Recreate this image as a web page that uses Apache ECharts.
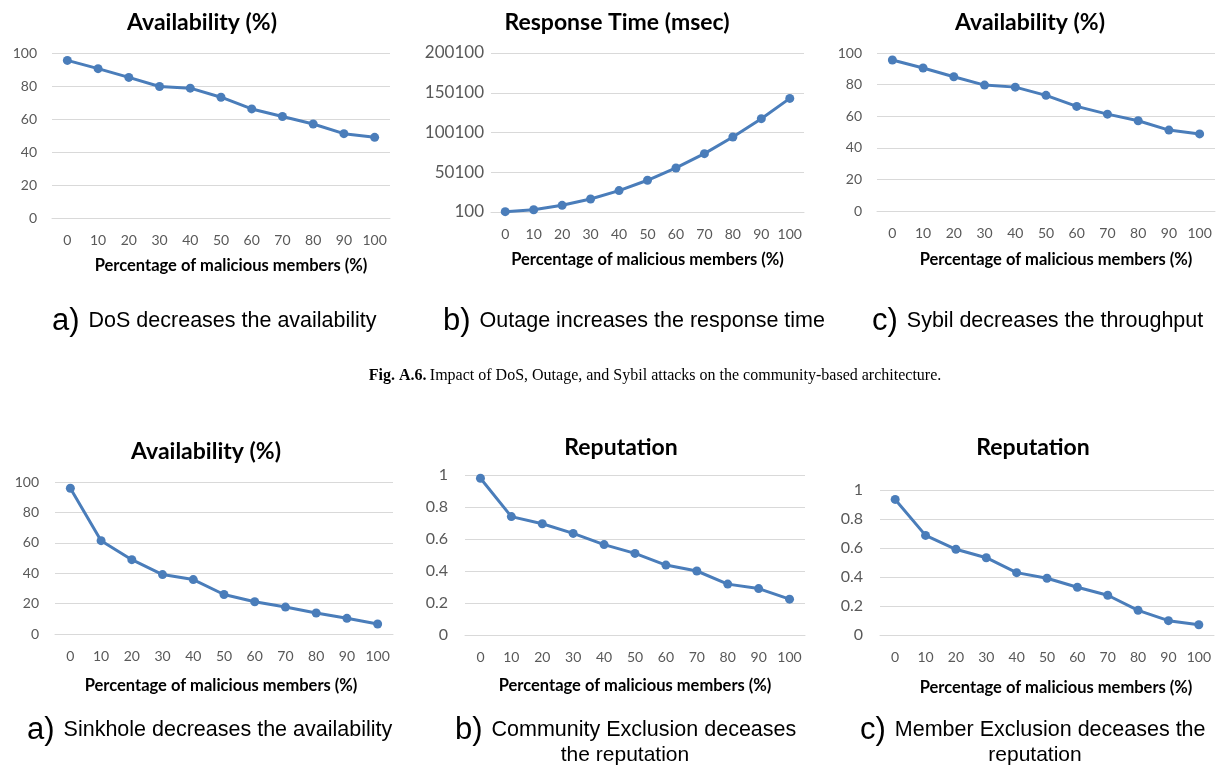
<!DOCTYPE html>
<html>
<head>
<meta charset="utf-8">
<script src="https://cdn.jsdelivr.net/npm/echarts@6/dist/echarts.min.js"></script>
<style>
html,body{margin:0;padding:0;background:#fff;}
#chart{width:1219px;height:767px;}
</style>
</head>
<body>
<div id="chart"></div>
<script>
const categories = ['0','10','20','30','40','50','60','70','80','90','100'];
const dosAvailability = [95.5, 90.5, 85.2, 79.7, 78.7, 73.2, 66.1, 61.5, 57.0, 51.1, 48.9];
const outageResponseTime = [500, 3000, 8500, 16500, 27000, 40000, 55500, 73500, 94500, 117500, 143000];
const sybilAvailability = [95.6, 90.5, 85.0, 79.7, 78.4, 73.2, 66.2, 61.3, 57.1, 51.2, 48.8];
const sinkholeAvailability = [95.9, 61.4, 48.9, 39.1, 35.8, 26.0, 21.2, 17.7, 13.8, 10.3, 6.6];
const communityReputation = [0.98, 0.74, 0.695, 0.635, 0.565, 0.51, 0.437, 0.40, 0.318, 0.29, 0.224];
const memberReputation = [0.935, 0.687, 0.591, 0.533, 0.43, 0.391, 0.329, 0.274, 0.17, 0.099, 0.071];

const chartTitles = ['Availability (%)', 'Response Time (msec)', 'Availability (%)', 'Availability (%)', 'Reputation', 'Reputation'];
const xAxisName = 'Percentage of malicious members (%)';
const seriesData = [dosAvailability, outageResponseTime, sybilAvailability, sinkholeAvailability, communityReputation, memberReputation];
const yRanges = [
  {min: 0, max: 100, interval: 20},
  {min: 100, max: 200100, interval: 50000},
  {min: 0, max: 100, interval: 20},
  {min: 0, max: 100, interval: 20},
  {min: 0, max: 1, interval: 0.2},
  {min: 0, max: 1, interval: 0.2}
];

// layout
const grids = [
  {left: 52, top: 53, width: 338, height: 165},
  {left: 491, top: 53, width: 313, height: 159},
  {left: 877, top: 53, width: 338, height: 158},
  {left: 55, top: 482, width: 338, height: 152},
  {left: 465, top: 475, width: 340, height: 160},
  {left: 880, top: 490, width: 334, height: 145}
];
const titlePos = [[197, 6], [612, 6], [1025, 6], [201, 435], [616, 431], [1028, 431]];
const yLabelMargin = [15, 7, 15, 16, 17, 17];
const yLabelSize = [14, 17, 14, 14, 16, 16];
const nameGap = [39, 39, 40, 43, 42, 44];
const nameShift = [20, 0, 20, -6, 0, 18];

const blue = '#4a7dba';
const font = 'Lato, "Open Sans", sans-serif';
const capRich = {big: {fontSize: 31, fontFamily: 'Liberation Sans', padding: [0, 9, 0, 0]}, txt: {fontSize: 21.5, fontFamily: 'Liberation Sans'}};

const option = {
  animation: false,
  backgroundColor: '#fff',
  title: chartTitles.map((t, i) => ({
    text: t, left: titlePos[i][0], top: titlePos[i][1], textAlign: 'center',
    textStyle: {fontFamily: font, fontWeight: 'bold', fontSize: 23, color: '#000'}
  })),
  grid: grids,
  xAxis: grids.map((g, i) => ({
    type: 'category', gridIndex: i, data: categories, boundaryGap: true,
    axisLine: {show: true, lineStyle: {color: '#d9d9d9', width: 1}},
    axisTick: {show: false},
    axisLabel: {color: '#595959', fontFamily: font, fontSize: 14, margin: 15, interval: 0},
    name: xAxisName, nameLocation: 'middle', nameGap: nameGap[i],
    nameTextStyle: {fontFamily: font, fontWeight: 'bold', fontSize: 16.5, color: '#000',
      padding: nameShift[i] >= 0 ? [0, 0, 0, nameShift[i]] : [0, -nameShift[i], 0, 0]}
  })),
  yAxis: grids.map((g, i) => ({
    type: 'value', gridIndex: i, min: yRanges[i].min, max: yRanges[i].max, interval: yRanges[i].interval,
    axisLine: {show: false}, axisTick: {show: false},
    splitLine: {show: true, lineStyle: {color: '#d9d9d9', width: 1}},
    axisLabel: {color: '#595959', fontFamily: font, fontSize: yLabelSize[i], margin: yLabelMargin[i],
      formatter: v => String(+v.toFixed(6))}
  })),
  series: seriesData.map((d, i) => ({
    type: 'line', xAxisIndex: i, yAxisIndex: i, data: d,
    symbol: 'circle', symbolSize: 9,
    lineStyle: {color: blue, width: 3},
    itemStyle: {color: blue}
  })),
  graphic: [
    {type: 'text', left: 52, top: 306, style: {text: '{big|a)}{txt|DoS decreases the availability}', rich: capRich, fill: '#000'}},
    {type: 'text', left: 443, top: 306, style: {text: '{big|b)}{txt|Outage increases the response time}', rich: capRich, fill: '#000'}},
    {type: 'text', left: 872, top: 306, style: {text: '{big|c)}{txt|Sybil decreases the throughput}', rich: capRich, fill: '#000'}},
    {type: 'text', x: 655, y: 376, style: {text: '{b|Fig. A.6.} {n|Impact of DoS, Outage, and Sybil attacks on the community-based architecture.}', align: 'center', verticalAlign: 'middle', rich: {b: {fontSize: 16, fontWeight: 'bold', fontFamily: 'Liberation Serif'}, n: {fontSize: 16, fontFamily: 'Liberation Serif'}}, fill: '#000'}},
    {type: 'text', left: 27, top: 715, style: {text: '{big|a)}{txt|Sinkhole decreases the availability}', rich: capRich, fill: '#000'}},
    {type: 'text', left: 455, top: 715, style: {text: '{big|b)}{txt|Community Exclusion deceases}', rich: capRich, fill: '#000'}},
    {type: 'text', x: 625, y: 755, style: {text: 'the reputation', font: '21px "Liberation Sans"', align: 'center', verticalAlign: 'middle', fill: '#000'}},
    {type: 'text', left: 860, top: 715, style: {text: '{big|c)}{txt|Member Exclusion deceases the}', rich: capRich, fill: '#000'}},
    {type: 'text', x: 1035, y: 755, style: {text: 'reputation', font: '21px "Liberation Sans"', align: 'center', verticalAlign: 'middle', fill: '#000'}}
  ]
};

const chart = echarts.init(document.getElementById('chart'), null, {renderer: 'canvas'});
chart.setOption(option);
</script>
</body>
</html>
